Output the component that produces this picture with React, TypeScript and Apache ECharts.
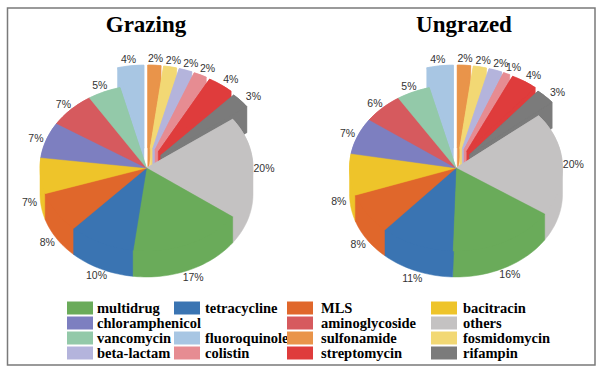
import React, { useEffect, useRef } from "react";
import * as echarts from "echarts";

// ---- data ----
const categories = [
  "sulfonamide", "fosmidomycin", "beta-lactam", "colistin", "streptomycin", "rifampin",
  "others", "multidrug", "tetracycline", "MLS", "bacitracin", "chloramphenicol",
  "aminoglycoside", "vancomycin", "fluoroquinole",
];
const grazingValues = [2, 2, 2, 2, 4, 3, 20, 17, 10, 8, 7, 7, 7, 5, 4];
const ungrazedValues = [2, 2, 2, 1, 4, 3, 20, 16, 11, 8, 8, 7, 6, 5, 4];
const pieTitles = ["Grazing", "Ungrazed"];
const legendRows: (string | null)[][] = [
  ["multidrug", "tetracycline", "MLS", "bacitracin"],
  ["chloramphenicol", null, "aminoglycoside", "others"],
  ["vancomycin", "fluoroquinole", "sulfonamide", "fosmidomycin"],
  ["beta-lactam", "colistin", "streptomycin", "rifampin"],
];

// ---- styles ----
const colorMap: Record<string, string> = {
  multidrug: "#6aab5a",
  tetracycline: "#3a74b2",
  MLS: "#e0672b",
  bacitracin: "#eec42a",
  chloramphenicol: "#7d7fc0",
  aminoglycoside: "#d65a5e",
  others: "#c4c2c2",
  vancomycin: "#93c9a9",
  fluoroquinole: "#a8c6e3",
  sulfonamide: "#e9944a",
  fosmidomycin: "#f2d874",
  "beta-lactam": "#b4b4dc",
  colistin: "#e68c92",
  streptomycin: "#df3c3c",
  rifampin: "#7b7b7b",
};
const explodeMap: Record<string, number> = {
  sulfonamide: 20, fosmidomycin: 20, "beta-lactam": 20, colistin: 20,
  streptomycin: 20, rifampin: 19, fluoroquinole: 20,
};
const SERIF = "'Liberation Serif', 'Times New Roman', Times, serif";
const SANS = "'Liberation Sans', Arial, sans-serif";
const PIES = [{ cx: 146.5, cy: 168 }, { cx: 456, cy: 168 }];
const RX = 106.5, RY = 83, DEPTH = 26;
const LEG_SW_X = [67, 174, 287, 431];
const LEG_TX_X = [97, 205, 321, 463];
const LEG_Y = [308, 323, 338, 353];

const allValues = [grazingValues, ungrazedValues];
// rows: [pie, slice, value, cumulative before, total]
const sliceData: number[][] = [];
allValues.forEach((vals, p) => {
  const total = vals.reduce((a, b) => a + b, 0);
  let cum = 0;
  vals.forEach((v, i) => {
    sliceData.push([p, i, v, cum, total]);
    cum += v;
  });
});

const rad = (d: number) => (d * Math.PI) / 180;

function sectorPts(cx: number, cy: number, a0: number, a1: number, dy: number) {
  const pts: number[][] = [[cx, cy + dy]];
  const n = Math.max(2, Math.ceil((a1 - a0) / 2));
  for (let k = 0; k <= n; k++) {
    const a = rad(a0 + ((a1 - a0) * k) / n);
    pts.push([cx + RX * Math.sin(a), cy - RY * Math.cos(a) + dy]);
  }
  return pts;
}

function hull(points: number[][]) {
  const pts = points.slice().sort((a, b) => (a[0] - b[0]) || (a[1] - b[1]));
  const cross = (o: number[], a: number[], b: number[]) =>
    (a[0] - o[0]) * (b[1] - o[1]) - (a[1] - o[1]) * (b[0] - o[0]);
  const lower: number[][] = [];
  for (const p of pts) {
    while (lower.length >= 2 && cross(lower[lower.length - 2], lower[lower.length - 1], p) <= 0) lower.pop();
    lower.push(p);
  }
  const upper: number[][] = [];
  for (let i = pts.length - 1; i >= 0; i--) {
    const p = pts[i];
    while (upper.length >= 2 && cross(upper[upper.length - 2], upper[upper.length - 1], p) <= 0) upper.pop();
    upper.push(p);
  }
  upper.pop();
  lower.pop();
  return lower.concat(upper);
}

function geom(api: any) {
  const p = api.value(0), i = api.value(1), v = api.value(2), cum = api.value(3), tot = api.value(4);
  const a0 = (cum / tot) * 360;
  const a1 = ((cum + v) / tot) * 360;
  const mid = (a0 + a1) / 2;
  const name = categories[i];
  const e = explodeMap[name] || 0;
  const ox = e * Math.sin(rad(mid));
  const oy = -e * Math.cos(rad(mid));
  const cx = PIES[p].cx + ox, cy = PIES[p].cy + oy;
  return { p, i, v, a0, a1, mid, name, e, cx, cy, color: colorMap[name] };
}

const renderWall = (_params: any, api: any) => {
  const g = geom(api);
  const top = sectorPts(g.cx, g.cy, g.a0, g.a1, 0);
  const bot = sectorPts(g.cx, g.cy, g.a0, g.a1, DEPTH);
  return {
    type: "polygon",
    z2: Math.round(10 + 40 * (1 - Math.cos(rad(g.mid)))),
    shape: { points: hull(top.concat(bot)) },
    style: { fill: g.color, stroke: g.color, lineWidth: 0.5 },
  };
};

const renderTop = (_params: any, api: any) => {
  const g = geom(api);
  const c = Math.cos(rad(g.mid)), s = Math.sin(rad(g.mid));
  const extra = g.e ? 6 : 0;
  const lx = g.cx + (RX + 11 + extra) * s;
  const ly = g.cy - (RY + 7) * c + (c < -0.01 ? DEPTH : 0);
  return {
    type: "group",
    children: [
      {
        type: "polygon",
        z2: 200,
        shape: { points: sectorPts(g.cx, g.cy, g.a0, g.a1, 0) },
        style: { fill: g.color, stroke: g.color, lineWidth: 0.5 },
      },
      {
        type: "text",
        z2: 300,
        x: lx,
        y: ly,
        style: {
          text: `${g.v}%`,
          fill: "#333333",
          stroke: "none",
          lineWidth: 0,
          fontSize: 10.5,
          fontFamily: SANS,
          align: "center",
          verticalAlign: "middle",
        },
      },
    ],
  };
};

export default function App() {
  const ref = useRef<HTMLDivElement>(null);
  useEffect(() => {
    if (!ref.current) return;
    const chart = echarts.init(ref.current, undefined, { renderer: "svg" });

    const graphics: any[] = [
      {
        type: "rect",
        shape: { x: 7.5, y: 8, width: 587.5, height: 357 },
        style: { fill: "none", stroke: "#7a7a7a", lineWidth: 1.5 },
        silent: true,
      },
    ];
    pieTitles.forEach((t, p) => {
      graphics.push({
        type: "text",
        x: p === 0 ? 146 : 464,
        y: 24,
        style: {
          text: t,
          fill: "#000",
          fontSize: 23,
          fontWeight: "bold",
          fontFamily: SERIF,
          align: "center",
          verticalAlign: "middle",
        },
      });
    });
    legendRows.forEach((row, r) => {
      row.forEach((name, c) => {
        if (!name) return;
        graphics.push({
          type: "rect",
          shape: { x: LEG_SW_X[c], y: LEG_Y[r] - 6.5, width: 26, height: 13 },
          style: { fill: colorMap[name] },
        });
        graphics.push({
          type: "text",
          x: LEG_TX_X[c],
          y: LEG_Y[r],
          style: {
            text: name,
            fill: "#000",
            fontSize: 14.5,
            fontWeight: "bold",
            fontFamily: SERIF,
            align: "left",
            verticalAlign: "middle",
          },
        });
      });
    });

    chart.setOption({
      animation: false,
      backgroundColor: "#ffffff",
      graphic: graphics,
      series: [
        {
          type: "custom",
          coordinateSystem: "none",
          silent: true,
          z: 2,
          renderItem: renderWall,
          data: sliceData,
        },
        {
          type: "custom",
          coordinateSystem: "none",
          silent: true,
          z: 2,
          renderItem: renderTop,
          data: sliceData,
        },
      ],
    });
    return () => chart.dispose();
  }, []);
  return (
    <div
      ref={ref}
      style={{ position: "fixed", left: 0, top: 0, width: 605, height: 378 }}
    />
  );
}
